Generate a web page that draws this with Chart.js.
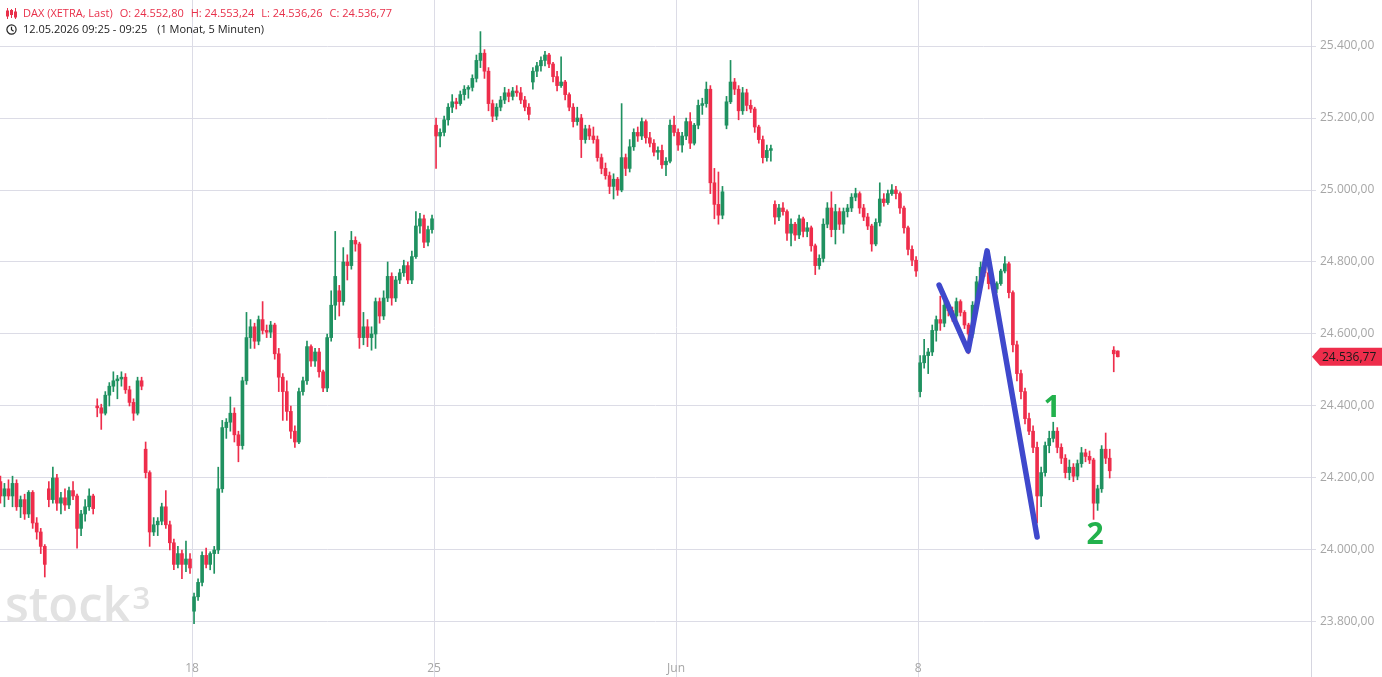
<!DOCTYPE html>
<html lang="de">
<head>
<meta charset="utf-8">
<title>DAX (XETRA, Last)</title>
<script src="https://cdn.jsdelivr.net/npm/chart.js@4/dist/chart.umd.min.js"></script>
<style>
html, body { margin: 0; padding: 0; background: #fff; }
#wrap { position: relative; width: 1382px; height: 677px; overflow: hidden; }
#grafico { position: absolute; left: 0; top: 0; }
#kopf { position: absolute; left: 6px; top: 5px; font-family: "Open Sans", sans-serif; font-size: 11px; line-height: 16px; color: #222; pointer-events: none; }
#kopf .zeile { display: flex; align-items: center; white-space: nowrap; }
#kopf .zeile svg { width: 11px; height: 11px; margin-right: 6px; }
#kopf .zeile span { margin-right: 7px; }
#kopf .rot { color: #e8304a; }
</style>
</head>
<body>
<div id="wrap">
  <canvas id="grafico" width="1382" height="677"></canvas>
  <div id="kopf">
    <div class="zeile rot">
      <svg viewBox="0 0 11 11"><g stroke="#e8304a" stroke-width="1" fill="none"><line x1="1.5" y1="0" x2="1.5" y2="11"/><rect x="0.5" y="3" width="2" height="5"/><line x1="5.5" y1="1" x2="5.5" y2="10"/><rect x="4.5" y="2.5" width="2" height="4"/><line x1="9.5" y1="0" x2="9.5" y2="11"/><rect x="8.5" y="4" width="2" height="5"/></g></svg>
      <span>DAX (XETRA, Last)</span><span>O: 24.552,80</span><span>H: 24.553,24</span><span>L: 24.536,26</span><span>C: 24.536,77</span>
    </div>
    <div class="zeile">
      <svg viewBox="0 0 11 11"><circle cx="5.5" cy="5.5" r="4.6" stroke="#222" stroke-width="1.2" fill="none"/><polyline points="5.5,2.8 5.5,5.7 7.6,7.2" stroke="#222" stroke-width="1.2" fill="none"/></svg>
      <span>12.05.2026 09:25 - 09:25</span><span>&nbsp;(1 Monat, 5 Minuten)</span>
    </div>
  </div>
</div>
<script>
// DAX 5-Minuten-Chart, hier 12 Kerzen pro Handelstag
const KERZEN_PRO_TAG = 12

// Handelstage 12.05. bis 12.06.2026
const handelstage = ['12.05.', '13.05.', '14.05.', '15.05.', '18.05.', '19.05.', '20.05.', '21.05.', '22.05.',
    '25.05.', '26.05.', '27.05.', '28.05.', '29.05.', '01.06.', '02.06.', '03.06.', '04.06.', '05.06.',
    '08.06.', '09.06.', '10.06.', '11.06.', '12.06.']

// Beschriftung der Zeitachse
const tickTage = ['18.05.', '25.05.', '01.06.', '08.06.']
const tickTexte = ['18', '25', 'Jun', '8']

// Preisachse
const kursTicks = [23800, 24000, 24200, 24400, 24600, 24800, 25000, 25200, 25400]

// eine Zeile pro Handelstag
const eroeffnung = [
    24190, 24150, 24170, 24150, 24185, 24120, 24140, 24100, 24160, 24075, 24050, 24010,
    24170, 24140, 24200, 24130, 24145, 24125, 24165, 24150, 24060, 24100, 24120, 24150,
    24400, 24395, 24380, 24430, 24455, 24470, 24475, 24480, 24445, 24410, 24380, 24470,
    24280, 24215, 24050, 24070, 24080, 24120, 24070, 24020, 23960, 23990, 23960, 23975,
    23830, 23870, 23910, 23985, 23960, 23990, 24000, 24170, 24340, 24355, 24380, 24320,
    24290, 24470, 24590, 24620, 24580, 24640, 24610, 24605, 24625, 24545, 24480, 24440,
    24385, 24330, 24300, 24440, 24470, 24565, 24525, 24550, 24495, 24450, 24590, 24680,
    24720, 24690, 24800, 24790, 24860, 24850, 24590, 24620, 24590, 24600, 24690, 24650,
    24700, 24760, 24700, 24750, 24770, 24790, 24750, 24815, 24900, 24920, 24855, 24890,
    25180, 25150, 25160, 25195, 25230, 25245, 25240, 25265, 25280, 25285, 25310, 25360,
    25380, 25330, 25240, 25205, 25230, 25250, 25270, 25260, 25275, 25270, 25250, 25230,
    25300, 25330, 25345, 25360, 25375, 25350, 25315, 25290, 25300, 25265, 25230, 25190,
    25200, 25140, 25170, 25150, 25140, 25090, 25060, 25040, 25010, 25030, 25000, 25090,
    25060, 25120, 25160, 25150, 25190, 25145, 25130, 25105, 25110, 25070, 25080, 25180,
    25160, 25125, 25150, 25190, 25130, 25180, 25235, 25240, 25280, 25020, 24960, 24930,
    25180, 25245, 25300, 25280, 25220, 25270, 25235, 25225, 25175, 25140, 25090, 25110,
    24960, 24925, 24950, 24940, 24880, 24905, 24875, 24920, 24885, 24895, 24845, 24790,
    24810, 24905, 24950, 24890, 24940, 24905, 24940, 24950, 24980, 24990, 24950, 24925,
    24900, 24850, 24910, 24975, 24965, 24990, 25000, 24990, 24950, 24895, 24835, 24805,
    24440, 24520, 24540, 24550, 24610, 24640, 24630, 24680, 24665, 24650, 24690, 24660,
    24625, 24600, 24680, 24745, 24785, 24770, 24740, 24725, 24740, 24775, 24795, 24715,
    24570, 24490, 24440, 24365, 24330, 24285, 24150, 24215, 24290, 24310, 24330, 24285,
    24255, 24215, 24230, 24205, 24240, 24270, 24260, 24250, 24130, 24170, 24280, 24255,
    24555, 24552.80
]
const hoch = [
    24205, 24185, 24195, 24205, 24195, 24150, 24155, 24165, 24165, 24090, 24060, 24015,
    24190, 24230, 24210, 24160, 24170, 24175, 24190, 24155, 24110, 24140, 24170, 24155,
    24420, 24405, 24440, 24465, 24495, 24485, 24495, 24490, 24455, 24420, 24480, 24480,
    24300, 24220, 24090, 24090, 24130, 24165, 24080, 24030, 24010, 24000, 24025, 23990,
    23880, 23920, 23995, 24005, 23995, 24010, 24230, 24360, 24365, 24425, 24395, 24330,
    24480, 24660, 24640, 24630, 24650, 24690, 24625, 24635, 24630, 24560, 24490, 24470,
    24400, 24345, 24450, 24480, 24580, 24570, 24560, 24560, 24500, 24600, 24720, 24885,
    24735, 24840, 24820, 24885, 24870, 24855, 24660, 24640, 24620, 24700, 24700, 24720,
    24800, 24770, 24760, 24780, 24805, 24800, 24830, 24940, 24935, 24930, 24900, 24930,
    25200, 25170, 25205, 25240, 25265, 25255, 25275, 25290, 25290, 25320, 25375, 25440,
    25390, 25340, 25250, 25240, 25260, 25285, 25280, 25285, 25290, 25285, 25260, 25240,
    25340, 25355, 25370, 25385, 25380, 25355, 25330, 25370, 25305, 25270, 25240, 25230,
    25210, 25180, 25180, 25175, 25150, 25100, 25075, 25050, 25045, 25035, 25240, 25100,
    25140, 25170, 25175, 25200, 25195, 25160, 25140, 25120, 25125, 25090, 25195, 25205,
    25170, 25160, 25200, 25215, 25185, 25250, 25255, 25300, 25290, 25060, 25050, 25010,
    25260, 25360, 25310, 25290, 25285, 25280, 25250, 25230, 25180, 25150, 25125, 25125,
    24970, 24960, 24965, 24945, 24920, 24910, 24930, 24925, 24910, 24900, 24850, 24820,
    24920, 24965, 24995, 24960, 24950, 24950, 24960, 24990, 25005, 24995, 24960, 24935,
    24905, 24920, 25020, 24990, 25000, 25015, 25010, 24995, 24955, 24900, 24845, 24815,
    24540, 24585, 24560, 24625, 24650, 24705, 24710, 24690, 24675, 24700, 24695, 24665,
    24630, 24690, 24760, 24800, 24795, 24775, 24750, 24745, 24780, 24815, 24800, 24720,
    24580, 24500, 24450, 24380, 24345, 24300, 24230, 24300, 24330, 24355, 24340, 24295,
    24265, 24250, 24240, 24250, 24285, 24280, 24275, 24255, 24180, 24290, 24325, 24280,
    24565, 24553.24
]
const tief = [
    24130, 24120, 24140, 24120, 24110, 24090, 24085, 24090, 24060, 24030, 23990, 23925,
    24120, 24130, 24110, 24100, 24110, 24115, 24140, 24005, 24040, 24080, 24110, 24100,
    24370, 24335, 24375, 24400, 24440, 24420, 24455, 24435, 24400, 24360, 24375, 24445,
    24200, 24010, 24040, 24040, 24070, 24060, 24000, 23945, 23950, 23920, 23940, 23935,
    23795, 23860, 23900, 23950, 23945, 23935, 23990, 24160, 24310, 24330, 24300, 24245,
    24280, 24460, 24560, 24560, 24570, 24600, 24590, 24590, 24530, 24440, 24360, 24360,
    24310, 24285, 24295, 24430, 24460, 24510, 24510, 24480, 24440, 24440, 24580, 24640,
    24650, 24680, 24750, 24780, 24830, 24560, 24570, 24565, 24555, 24560, 24630, 24640,
    24690, 24680, 24690, 24740, 24760, 24740, 24740, 24810, 24880, 24840, 24845, 24880,
    25060, 25120, 25150, 25180, 25215, 25225, 25235, 25250, 25255, 25275, 25300, 25340,
    25310, 25220, 25190, 25195, 25220, 25240, 25245, 25250, 25260, 25240, 25220, 25195,
    25280, 25315, 25330, 25345, 25340, 25300, 25275, 25285, 25250, 25220, 25175, 25180,
    25090, 25130, 25140, 25130, 25080, 25045, 25030, 24990, 24975, 24985, 24995, 25040,
    25050, 25110, 25135, 25140, 25130, 25120, 25095, 25085, 25060, 25040, 25075, 25150,
    25110, 25105, 25140, 25115, 25125, 25170, 25210, 25230, 24990, 24920, 24905, 24920,
    25170, 25240, 25265, 25195, 25210, 25220, 25215, 25160, 25130, 25075, 25080, 25080,
    24905, 24915, 24930, 24860, 24845, 24860, 24865, 24870, 24870, 24830, 24765, 24780,
    24800, 24895, 24870, 24850, 24890, 24880, 24925, 24940, 24970, 24935, 24915, 24890,
    24830, 24845, 24900, 24955, 24960, 24985, 24975, 24935, 24880, 24820, 24790, 24760,
    24425, 24505, 24490, 24540, 24580, 24610, 24620, 24650, 24635, 24640, 24650, 24615,
    24545, 24590, 24670, 24735, 24760, 24725, 24715, 24715, 24735, 24770, 24700, 24550,
    24470, 24420, 24350, 24320, 24270, 24075, 24120, 24205, 24270, 24300, 24270, 24240,
    24200, 24195, 24190, 24195, 24230, 24245, 24240, 24085, 24110, 24160, 24240, 24200,
    24495, 24536.26
]
const schluss = [
    24150, 24170, 24150, 24185, 24120, 24140, 24100, 24160, 24075, 24050, 24010, 23960,
    24140, 24200, 24130, 24145, 24125, 24165, 24150, 24060, 24100, 24120, 24150, 24115,
    24395, 24380, 24430, 24455, 24470, 24475, 24480, 24445, 24410, 24380, 24470, 24455,
    24215, 24050, 24070, 24080, 24120, 24070, 24020, 23960, 23990, 23960, 23975, 23950,
    23870, 23910, 23985, 23960, 23990, 24000, 24170, 24340, 24355, 24380, 24320, 24290,
    24470, 24590, 24620, 24580, 24640, 24610, 24605, 24625, 24545, 24480, 24440, 24385,
    24330, 24300, 24440, 24470, 24565, 24525, 24550, 24495, 24450, 24590, 24680, 24760,
    24690, 24800, 24790, 24860, 24850, 24590, 24620, 24590, 24600, 24690, 24650, 24700,
    24760, 24700, 24750, 24770, 24790, 24750, 24815, 24900, 24920, 24855, 24890, 24920,
    25150, 25160, 25195, 25230, 25245, 25240, 25265, 25280, 25285, 25310, 25360, 25380,
    25330, 25240, 25205, 25230, 25250, 25270, 25260, 25275, 25270, 25250, 25230, 25210,
    25330, 25345, 25360, 25375, 25350, 25315, 25290, 25300, 25265, 25230, 25190, 25200,
    25140, 25170, 25150, 25140, 25090, 25060, 25040, 25010, 25030, 25000, 25090, 25060,
    25120, 25160, 25150, 25190, 25145, 25130, 25105, 25110, 25070, 25080, 25180, 25160,
    25125, 25150, 25190, 25130, 25180, 25235, 25240, 25280, 25020, 24960, 24930, 24995,
    25245, 25300, 25280, 25220, 25270, 25235, 25225, 25175, 25140, 25090, 25110, 25115,
    24925, 24950, 24940, 24880, 24905, 24875, 24920, 24885, 24895, 24845, 24790, 24810,
    24905, 24950, 24890, 24940, 24905, 24940, 24950, 24980, 24990, 24950, 24925, 24900,
    24850, 24910, 24975, 24965, 24990, 25000, 24990, 24950, 24895, 24835, 24805, 24775,
    24520, 24540, 24550, 24610, 24640, 24630, 24680, 24665, 24650, 24690, 24660, 24625,
    24600, 24680, 24745, 24785, 24770, 24740, 24725, 24740, 24775, 24795, 24715, 24570,
    24490, 24440, 24365, 24330, 24285, 24150, 24215, 24290, 24310, 24330, 24285, 24255,
    24215, 24230, 24205, 24240, 24270, 24260, 24250, 24130, 24170, 24280, 24255, 24220,
    24545, 24536.77
]

// eingezeichnete Linie (Kerzenposition, Kurs) und Markierungen 1 / 2
const linieX = [232.7, 239.9, 244.6, 257.0]
const linieY = [24736, 24553, 24831, 24036]
const markenText = ['1', '2']
const markenX = [260.7, 271.4]
const markenY = [24394, 24039]

const gruen = '#1f9160'
const rot = '#ee2d4b'

function formatKurs(v) {
    var teile = v.toFixed(2).split('.')
    return teile[0].replace(/\B(?=(\d{3})+(?!\d))/g, '.') + ',' + teile[1]
}

var dochte = []
var koerper = []
var farben = []
for (var i = 0; i < schluss.length; i++) {
    dochte.push({ x: i, y: [tief[i], hoch[i]] })
    koerper.push({ x: i, y: [Math.min(eroeffnung[i], schluss[i]), Math.max(eroeffnung[i], schluss[i])] })
    farben.push(schluss[i] >= eroeffnung[i] ? gruen : rot)
}

var linie = []
for (var i = 0; i < linieX.length; i++) {
    linie.push({ x: linieX[i], y: linieY[i] })
}

// Wasserzeichen, Kursmarke rechts und die Zahlen 1 / 2
const extras = {
    id: 'extras',
    beforeDatasetsDraw(chart) {
        const ctx = chart.ctx
        ctx.save()
        ctx.fillStyle = '#e2e2e2'
        ctx.textBaseline = 'alphabetic'
        ctx.font = '600 49px "Open Sans"'
        ctx.fillText('stock', 5, 622)
        var w = ctx.measureText('stock').width
        ctx.font = '600 31px "Open Sans"'
        ctx.fillText('3', 5 + w + 2, 609)
        ctx.restore()
    },
    afterDraw(chart) {
        const ctx = chart.ctx
        const xs = chart.scales.x
        const ys = chart.scales.y
        const area = chart.chartArea
        ctx.save()

        // Achsenlinie bis zum unteren Rand
        ctx.strokeStyle = '#d6d6e0'
        ctx.lineWidth = 1
        ctx.beginPath()
        ctx.moveTo(area.right + 0.5, area.bottom)
        ctx.lineTo(area.right + 0.5, chart.height)
        ctx.stroke()

        // letzte Kursmarke
        var letzter = schluss[schluss.length - 1]
        var y = ys.getPixelForValue(letzter)
        ctx.fillStyle = '#ee2d4b'
        ctx.beginPath()
        ctx.moveTo(area.right + 1, y)
        ctx.lineTo(area.right + 9, y - 9)
        ctx.lineTo(chart.width, y - 9)
        ctx.lineTo(chart.width, y + 9)
        ctx.lineTo(area.right + 9, y + 9)
        ctx.closePath()
        ctx.fill()
        ctx.fillStyle = '#1a1a1a'
        ctx.font = '12px "Open Sans"'
        ctx.textBaseline = 'middle'
        ctx.fillText(formatKurs(letzter), area.right + 11, y + 0.5)

        // Zahlen 1 und 2
        ctx.fillStyle = '#22b14c'
        ctx.font = 'bold 30px "Open Sans"'
        ctx.textAlign = 'center'
        for (var i = 0; i < markenText.length; i++) {
            ctx.fillText(markenText[i], xs.getPixelForValue(markenX[i]), ys.getPixelForValue(markenY[i]))
        }
        ctx.restore()
    }
}

const ctxKurs = document.getElementById('grafico').getContext('2d')
const graficoKurs = new Chart(ctxKurs, {
    type: 'bar',
    data: {
        datasets: [{
            type: 'line',
            data: linie,
            borderColor: '#3f48cc',
            borderWidth: 5.5,
            borderCapStyle: 'round',
            borderJoinStyle: 'round',
            pointRadius: 0,
            tension: 0,
            order: 0
        }, {
            data: koerper,
            backgroundColor: farben,
            barThickness: 3,
            minBarLength: 1,
            grouped: false,
            order: 1
        }, {
            data: dochte,
            backgroundColor: farben,
            barThickness: 1,
            minBarLength: 1,
            grouped: false,
            order: 2
        }]
    },
    options: {
        responsive: false,
        animation: false,
        events: [],
        layout: { padding: 0 },
        plugins: {
            legend: { display: false },
            tooltip: { enabled: false }
        },
        scales: {
            x: {
                type: 'linear',
                offset: false,
                min: -0.103,
                max: 324.9,
                border: { display: false },
                grid: { color: '#dcdce6', tickLength: 22, drawTicks: true, offset: false },
                ticks: {
                    autoSkip: false,
                    maxRotation: 0,
                    padding: -16,
                    color: '#a6a6a6',
                    font: { family: 'Open Sans', size: 12 },
                    callback: (value, index) => tickTexte[index]
                },
                afterBuildTicks: (scale) => {
                    scale.ticks = tickTage.map(t => ({ value: handelstage.indexOf(t) * KERZEN_PRO_TAG - 0.5 }))
                },
                afterFit: (scale) => {
                    scale.height = 22
                    scale.paddingLeft = 0
                    scale.paddingRight = 0
                }
            },
            y: {
                position: 'right',
                min: 23708.3,
                max: 25527.8,
                border: { display: true, color: '#d6d6e0' },
                grid: { color: '#dcdce6', tickLength: 5 },
                ticks: {
                    padding: 4,
                    color: '#a6a6a6',
                    font: { family: 'Open Sans', size: 12 },
                    callback: (value) => formatKurs(value)
                },
                afterBuildTicks: (scale) => {
                    scale.ticks = kursTicks.map(v => ({ value: v }))
                },
                afterFit: (scale) => {
                    scale.width = 71
                    scale.paddingTop = 0
                    scale.paddingBottom = 0
                }
            }
        }
    },
    plugins: [extras]
});
</script>
</body>
</html>
